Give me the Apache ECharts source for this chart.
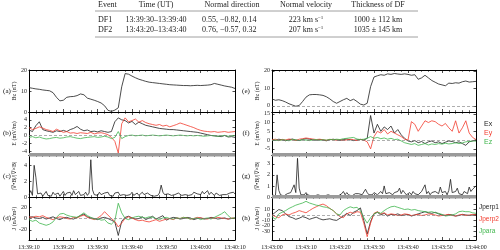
<!DOCTYPE html>
<html>
<head>
<meta charset="utf-8">
<script src="https://cdn.jsdelivr.net/npm/echarts@6/dist/echarts.min.js"></script>
<style>
  html, body { margin: 0; padding: 0; background: #fff; }
  #chart { width: 500px; height: 250px; }
</style>
</head>
<body>
<div id="chart"></div>
<script>
// ---- table ----
var tableHead = ['Event', 'Time (UT)', 'Normal direction', 'Normal velocity', 'Thickness of DF'];
var tableRows = [
  ['DF1', '13:39:30–13:39:40', '0.55, −0.82, 0.14', '223 km s{sup|−1}', '1000 ± 112 km'],
  ['DF2', '13:43:20–13:43:40', '0.76, −0.57, 0.32', '207 km s{sup|−1}', '1035 ± 145 km']
];

// ---- x tick labels ----
var timeLabelsLeft = ['13:39:10', '13:39:20', '13:39:30', '13:39:40', '13:39:50', '13:40:00', '13:40:10'];
var timeLabelsRight = ['13:43:00', '13:43:10', '13:43:20', '13:43:30', '13:43:40', '13:43:50', '13:44:00'];

// ---- left column (1 s samples from 13:39:10) ----
var bzLeft = [
  11.6,11.3,11.0,10.8,10.5,10.3,10.1,9.2,7.0,5.3,
  5.6,7.0,7.3,7.4,7.8,8.6,8.2,6.6,6.1,5.6,
  5.0,4.3,3.0,0.8,0.3,0.9,2.0,12.0,18.3,18.0,
  17.1,16.3,15.6,15.1,14.6,14.2,14.0,13.8,13.6,13.4,
  13.2,13.0,12.9,12.8,12.7,12.6,12.6,12.5,12.6,12.7,
  12.6,12.7,12.8,13.0,13.6,13.2,12.8,12.4,12.1,11.8,
  11.2];
var exLeft = [
  1.4,1.0,2.5,3.5,1.5,1.2,1.0,0.8,1.2,1.0,
  1.3,1.0,1.5,1.8,2.3,1.6,1.2,1.4,1.0,1.1,
  0.9,1.2,1.0,0.8,1.0,3.5,4.5,4.0,3.8,3.2,
  3.6,2.8,3.4,3.0,2.6,2.4,2.2,2.0,1.8,1.7,
  1.6,1.5,1.5,1.4,1.3,1.2,1.1,1.0,0.9,0.8,
  0.6,0.4,0.2,0.0,-0.1,-0.2,-0.3,0.0,-0.4,-0.3,
  -0.5];
var eyLeft = [
  2.0,1.5,1.8,2.2,1.9,1.5,1.3,1.0,1.6,1.2,
  0.8,1.0,0.6,0.7,0.5,0.7,0.6,0.5,0.8,0.4,
  0.6,0.7,0.5,0.2,-0.5,-1.5,-4.5,3.0,4.5,3.5,
  3.8,4.2,3.4,3.8,3.3,3.0,2.8,2.6,2.8,2.4,
  2.6,2.2,2.5,2.8,3.2,2.9,2.6,2.3,2.0,1.6,
  1.3,1.1,1.0,0.9,1.0,0.8,0.9,1.0,0.8,0.9,
  1.0];
var ezLeft = [
  -0.5,-0.3,-0.6,-0.4,-0.7,-0.9,-0.8,-0.6,-0.5,-0.7,
  -0.6,-0.4,-0.3,-0.5,-0.7,-0.8,-0.6,-0.5,-0.4,-0.3,
  -0.5,-0.4,-0.2,-0.4,-0.8,-0.5,1.0,-0.8,-0.3,0.0,
  0.1,-0.1,0.0,0.1,-0.1,0.0,0.1,0.0,-0.1,0.0,
  0.1,0.0,-0.1,0.0,0.1,0.0,-0.1,0.0,-0.1,0.0,
  -0.1,-0.2,-0.1,0.0,-0.1,-0.2,-0.1,0.0,-0.2,-0.1,
  0.0];
// 0.5 s samples
var divLeft = [
  0.3,0.8,0.2,4.0,2.5,0.4,0.2,0.5,0.1,0.3,
  0.7,0.2,0.4,0.1,0.6,0.3,0.2,0.5,0.1,0.4,
  0.7,0.2,0.5,0.3,0.6,0.2,0.8,0.3,0.5,0.7,
  0.2,0.4,0.3,0.6,0.2,0.5,4.7,0.9,0.3,0.5,
  0.2,0.6,0.3,0.2,0.5,0.3,0.6,0.2,0.4,0.1,
  0.5,0.3,0.6,0.2,0.4,0.3,0.5,0.2,0.4,0.3,
  0.6,0.2,0.3,0.5,0.2,0.4,0.6,0.3,0.2,0.5,
  0.3,0.2,0.4,0.1,0.3,0.2,0.5,1.5,0.6,0.3,
  0.2,0.4,0.3,0.2,0.4,0.3,0.2,0.5,0.3,0.2,
  0.4,0.3,0.5,0.2,0.4,0.3,0.6,0.8,0.4,0.6,
  0.3,0.7,0.4,0.5,0.8,0.3,0.6,0.4,0.2,0.5,
  0.3,0.2,0.4,0.3,0.2,0.3,0.2,0.5,0.3,0.6,
  0.4];
var jPerp1Left = [
  2,3,1,0,2,-1,1,3,0,-2,
  1,2,0,-1,2,5,8,3,1,0,
  -2,1,2,0,-3,-6,-30,-5,2,4,
  1,-1,0,3,-2,1,4,-1,2,5,
  -3,0,2,1,-1,0,2,1,-2,0,
  1,-1,0,2,1,-1,0,1,-1,0,
  1];
var jPerp2Left = [
  3,2,4,3,5,2,0,-2,1,3,
  2,0,-1,2,1,4,6,2,0,-2,
  1,5,12,6,0,-5,-15,-8,0,3,
  1,-2,-4,-3,-5,-6,-4,-2,-5,-3,
  -1,0,-2,1,0,2,1,-1,0,2,
  1,0,-1,1,0,2,1,0,-1,1,
  0];
var jParaLeft = [
  -2,-5,-3,-8,-10,-12,-10,-6,2,8,
  9,6,4,3,2,6,10,5,2,-1,
  0,-3,-2,-8,-10,-4,27,10,0,-2,
  1,3,4,2,1,3,2,0,-2,1,
  2,0,-1,1,0,2,1,-1,0,1,
  -2,0,1,-1,2,5,8,12,5,0,
  1];

// ---- right column (1 s samples from 13:43:00) ----
var bzRight = [
  4.0,3.2,3.5,3.0,2.2,1.2,0.5,-0.2,0.2,2.5,
  5.0,6.3,6.5,6.5,6.3,6.0,5.2,4.0,2.5,1.5,
  2.5,3.5,4.3,3.0,3.8,2.5,1.0,0.5,1.5,11.0,
  16.5,17.2,17.8,17.5,18.3,18.0,18.5,18.2,18.0,18.3,
  18.0,17.5,17.8,15.2,16.0,17.5,16.0,14.5,13.5,12.5,
  12.0,11.5,13.0,12.8,13.2,13.0,13.8,14.2,13.6,13.8,
  14.0];
var exRight = [
  0.3,-0.2,0.5,0.1,-0.4,0.2,0.6,0.0,-0.3,0.4,
  0.8,0.5,0.2,-0.1,0.3,0.0,-0.4,0.2,0.5,0.1,
  -0.2,0.3,0.6,0.2,-0.3,0.1,0.4,0.0,1.0,14.0,
  4.0,9.0,5.0,7.5,6.0,8.0,4.0,6.0,3.0,1.0,
  -0.5,-1.0,-0.3,-1.5,-0.8,-2.0,-1.0,-0.5,-1.5,-1.0,
  -2.0,-1.2,-0.5,-0.8,-1.5,-1.0,-2.0,-3.0,-1.0,-0.5,
  0.2];
var eyRight = [
  0.2,0.5,-0.3,0.4,0.1,0.6,0.2,-0.2,0.5,0.8,
  1.2,0.9,0.6,0.3,0.5,0.2,-0.1,0.4,0.2,0.0,
  0.3,-0.2,0.1,0.5,0.2,-0.3,0.4,0.0,-1.0,-5.0,
  2.0,5.0,4.0,6.0,3.5,5.0,4.0,3.0,2.0,0.5,
  0.0,10.5,9.0,5.0,8.0,11.0,10.0,11.0,10.5,9.0,
  8.0,9.5,7.0,5.0,11.0,4.0,7.0,11.0,4.0,1.5,
  0.3];
var ezRight = [
  -0.2,0.1,-0.3,0.2,0.0,-0.4,0.3,0.1,-0.2,0.2,
  0.0,-0.3,0.1,0.3,-0.1,0.2,0.0,0.4,0.2,0.5,
  0.3,0.8,1.0,1.3,1.5,0.6,0.3,0.5,1.0,2.0,
  1.0,1.5,0.8,1.2,0.5,1.0,0.3,0.5,-0.5,-1.5,
  -2.0,-2.5,-2.0,-3.0,-2.5,-2.0,-2.8,-2.2,-2.5,-2.0,
  -2.3,-1.8,-2.2,-2.0,-1.5,-2.0,-1.6,-1.0,-0.8,-0.5,
  -0.6];
// 0.5 s samples
var divRight = [
  0.2,0.3,0.1,2.0,0.6,0.2,0.3,0.1,0.2,0.3,
  0.2,0.4,0.3,1.1,0.4,3.5,0.8,0.2,0.3,0.2,
  0.4,0.2,0.1,0.1,0.2,0.1,0.1,0.2,0.1,0.1,
  0.2,0.1,0.1,0.2,0.1,0.1,0.2,0.1,0.2,0.1,
  0.2,0.3,0.5,0.2,0.4,0.2,0.3,0.1,0.2,0.3,
  0.2,0.3,0.4,0.2,0.3,0.7,0.4,0.2,0.3,0.2,
  0.4,0.3,0.2,0.3,0.5,0.3,1.0,0.3,0.2,0.4,
  0.3,0.2,0.4,0.3,0.5,0.8,0.3,0.6,0.4,0.2,
  0.3,0.4,0.2,0.5,0.3,0.4,0.2,0.3,0.5,0.4,
  1.1,0.3,0.5,0.2,0.4,0.3,0.5,0.4,0.3,0.9,
  0.4,0.3,0.5,0.2,0.6,1.6,0.4,0.3,0.5,0.8,
  0.3,0.4,0.2,0.5,0.6,0.3,0.9,0.5,0.7,0.6,
  1.0];
var jPerp1Right = [
  0,5,10,8,2,-3,-5,-8,-6,-3,
  -5,-8,-6,-4,-7,-9,-8,-7,-9,-10,
  -6,-2,3,-1,5,8,13,-10,-35,-12,
  2,5,0,3,-2,1,0,2,-1,0,
  1,-2,0,2,4,6,4,3,5,2,
  0,-1,1,0,-2,-1,1,0,-1,0,
  1];
var jPerp2Right = [
  0,-3,-5,0,2,0,3,5,8,6,
  4,8,12,15,18,20,17,12,8,2,
  -3,-5,2,5,3,6,5,-15,-40,-15,
  3,6,2,4,0,2,1,-1,0,2,
  1,-1,0,1,-1,0,2,1,0,-2,
  -1,0,1,-1,-2,0,1,-1,0,1,
  0];
var jParaRight = [
  -3,-8,2,5,8,12,15,18,20,22,
  25,22,20,18,17,15,14,12,8,2,
  0,8,12,15,13,14,8,-5,-15,-5,
  2,5,3,8,12,15,16,14,12,10,
  11,9,10,8,7,6,5,6,4,3,
  1,-2,-1,0,2,6,7,6,6,4,
  3];

var BLACK = '#1e1e1e', RED = '#f23c2e', GREEN = '#3fb64c';
var SERIF = '"Liberation Serif", "DejaVu Serif", serif';
var SANS = '"Liberation Sans", "DejaVu Sans", sans-serif';

var cols = [
  { x: 29, w: 206, labels: timeLabelsLeft },
  { x: 272, w: 204, labels: timeLabelsRight }
];
var rows = [
  { top: 70, h: 42 },
  { top: 112, h: 43 },
  { top: 155, h: 42 },
  { top: 197, h: 43 }
];

var panels = [
  { col: 0, row: 0, tag: '(a)', name: 'Bz (nT)', min: 0, max: 20, ticks: [0, 10, 20], zero: false,
    lines: [[bzLeft, 1, BLACK]] },
  { col: 0, row: 1, tag: '(b)', name: 'E (mV/m)', min: -5, max: 6, ticks: [-4, -2, 0, 2, 4], zero: true,
    lines: [[exLeft, 1, BLACK], [eyLeft, 1, RED], [ezLeft, 1, GREEN]] },
  { col: 0, row: 2, tag: '(c)', name: '|∇•B|/|∇×B|', min: 0, max: 5.3, ticks: [0, 2, 4], zero: false,
    lines: [[divLeft, 0.5, BLACK]] },
  { col: 0, row: 3, tag: '(d)', name: 'J (nA/m²)', min: -38, max: 38, ticks: [-20, 0, 20], zero: true,
    lines: [[jPerp1Left, 1, BLACK], [jPerp2Left, 1, RED], [jParaLeft, 1, GREEN]] },
  { col: 1, row: 0, tag: '(e)', name: 'Bz (nT)', min: -3.5, max: 20.5, ticks: [0, 10, 20], zero: true,
    lines: [[bzRight, 1, BLACK]] },
  { col: 1, row: 1, tag: '(f)', name: 'E (mV/m)', min: -8.5, max: 16, ticks: [-5, 0, 5, 10, 15], zero: true,
    lines: [[exRight, 1, BLACK], [eyRight, 1, RED], [ezRight, 1, GREEN]] },
  { col: 1, row: 2, tag: '(g)', name: '|∇•B|/|∇×B|', min: 0, max: 3.8, ticks: [0, 1, 2, 3], zero: false,
    lines: [[divRight, 0.5, BLACK]] },
  { col: 1, row: 3, tag: '(h)', name: 'J (nA/m²)', min: -46, max: 33, ticks: [-40, -30, -20, -10, 0, 10, 20], zero: true,
    lines: [[jPerp1Right, 1, BLACK], [jPerp2Right, 1, RED], [jParaRight, 1, GREEN]] }
];

var grid = [], xAxis = [], yAxis = [], series = [], graphic = [];
var axisLine = { show: true, onZero: false, lineStyle: { color: '#000', width: 1 } };

panels.forEach(function (p, i) {
  var c = cols[p.col], r = rows[p.row];
  grid.push({ left: c.x, top: r.top, width: c.w, height: r.h });

  ['bottom', 'top'].forEach(function (pos) {
    xAxis.push({
      type: 'value', gridIndex: i, position: pos, min: 0, max: 60, interval: 10,
      axisLine: axisLine,
      axisTick: { show: true, inside: true, length: 3, lineStyle: { color: '#000', width: 0.7 } },
      minorTick: { show: true, splitNumber: 5, length: 1.8, lineStyle: { color: '#000', width: 0.6 } },
      axisLabel: {
        show: pos === 'bottom' && p.row === 3, margin: 4, fontSize: 6, color: '#222', fontFamily: SERIF,
        formatter: function (v) { return c.labels[Math.round(v / 10)]; }
      },
      splitLine: { show: false }
    });
  });
  ['left', 'right'].forEach(function (pos) {
    yAxis.push({
      type: 'value', gridIndex: i, position: pos, min: p.min, max: p.max,
      name: pos === 'left' ? p.name : '', nameLocation: 'middle', nameGap: 12, nameRotate: 90,
      nameMoveOverlap: false,
      nameTextStyle: { fontSize: 6, color: '#222', fontFamily: SERIF },
      axisLine: axisLine,
      axisTick: { show: true, inside: true, length: 2.5, customValues: p.ticks, lineStyle: { color: '#000', width: 0.7 } },
      axisLabel: { show: pos === 'left', customValues: p.ticks, margin: 2, fontSize: 6, color: '#222', fontFamily: SERIF },
      splitLine: { show: false }
    });
  });

  p.lines.forEach(function (ln, k) {
    var s = {
      type: 'line', xAxisIndex: 2 * i, yAxisIndex: 2 * i,
      data: ln[0].map(function (v, j) { return [j * ln[1], v]; }),
      showSymbol: false, symbol: 'none', silent: true,
      lineStyle: { color: ln[2], width: 0.8 }, itemStyle: { color: ln[2] }
    };
    if (k === 0 && p.zero) {
      s.markLine = {
        silent: true, symbol: 'none', label: { show: false },
        lineStyle: { type: [3, 2], color: '#777', width: 0.6 },
        data: [{ yAxis: 0 }]
      };
    }
    series.push(s);
  });

  graphic.push({
    type: 'text', x: p.col === 0 ? 7 : 246, y: r.top + r.h / 2,
    style: { text: p.tag, font: '7px ' + SERIF, fill: '#111', textAlign: 'center', textVerticalAlign: 'middle' }
  });
});

// dense tick bands between some panels
[[cols[0], 153], [cols[1], 153], [cols[1], 195]].forEach(function (b) {
  graphic.push({ type: 'rect', shape: { x: b[0].x, y: b[1], width: b[0].w, height: 3.5 }, style: { fill: '#9a9a9a' }, z: 100 });
});

// side labels for E and J
[['Ex', BLACK, 124], ['Ey', RED, 133], ['Ez', GREEN, 142]].forEach(function (t) {
  graphic.push({ type: 'text', x: 484, y: t[2], style: { text: t[0], font: '7px ' + SANS, fill: t[1], textVerticalAlign: 'middle' } });
});
[['Jperp1', BLACK, 207], ['Jperp2', RED, 219], ['Jpara', GREEN, 231]].forEach(function (t) {
  graphic.push({ type: 'text', x: 479, y: t[2], style: { text: t[0], font: '6.5px ' + SANS, fill: t[1], textVerticalAlign: 'middle' } });
});

// table
var colPos = [[98, 'left'], [156, 'center'], [202, 'left'], [306, 'center'], [378, 'center']];
var rowY = [4.5, 20, 29.5];
[tableHead].concat(tableRows).forEach(function (row, ri) {
  row.forEach(function (cell, ci) {
    var x = colPos[ci][0], al = colPos[ci][1];
    if (ri === 0 && ci === 2) { x = 232; al = 'center'; }
    graphic.push({
      type: 'text', x: x, y: rowY[ri],
      style: {
        text: cell, font: '8px ' + SERIF, fill: '#222', textAlign: al, textVerticalAlign: 'middle',
        rich: { sup: { fontSize: 5, fontFamily: SERIF, fill: '#222', padding: [0, 0, 4, 0] } }
      }
    });
  });
});
[11, 37].forEach(function (y) {
  graphic.push({ type: 'line', shape: { x1: 95, y1: y, x2: 418, y2: y }, style: { stroke: '#888', lineWidth: 0.8 } });
});

var chart = echarts.init(document.getElementById('chart'));
chart.setOption({
  animation: false,
  backgroundColor: '#fff',
  grid: grid,
  xAxis: xAxis,
  yAxis: yAxis,
  series: series,
  graphic: graphic
});
</script>
</body>
</html>
